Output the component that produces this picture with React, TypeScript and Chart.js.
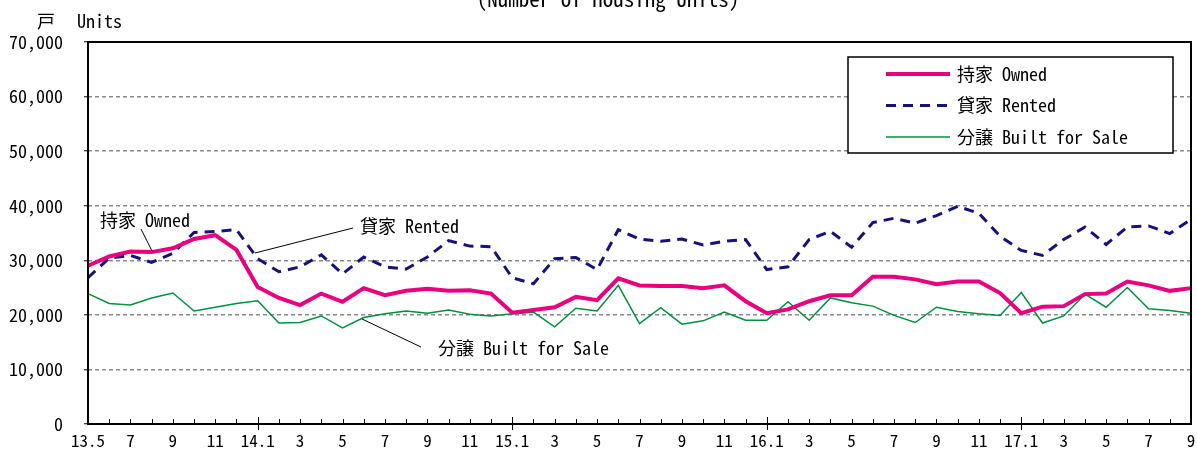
import React, { useEffect, useRef } from "react";
import { Chart, registerables } from "chart.js";

Chart.register(...registerables);

const FONT = "'Noto Sans Mono CJK JP', 'Noto Sans CJK JP', 'DejaVu Sans Mono', monospace";

const TITLE = "(Number of Housing Units)";
const UNIT_JA = "戸";
const UNIT_EN = "Units";

const categories = [
  "13.5", "6", "7", "8", "9", "10", "11", "12",
  "14.1", "2", "3", "4", "5", "6", "7", "8", "9", "10", "11", "12",
  "15.1", "2", "3", "4", "5", "6", "7", "8", "9", "10", "11", "12",
  "16.1", "2", "3", "4", "5", "6", "7", "8", "9", "10", "11", "12",
  "17.1", "2", "3", "4", "5", "6", "7", "8", "9",
];

const owned = [
  29000, 30700, 31600, 31500, 32200, 33900, 34600, 31900, 25100, 23100, 21800, 23900, 22400, 24900,
  23600, 24400, 24800, 24400, 24500, 23900, 20400, 20900, 21400, 23300, 22700, 26700, 25400, 25300,
  25300, 24900, 25400, 22500, 20300, 21000, 22500, 23600, 23600, 27000, 27000, 26500, 25600,
  26100, 26100, 24000, 20300, 21500, 21600, 23800, 23900, 26100, 25400, 24400, 24900,
];

const rented = [
  26800, 30400, 30900, 29600, 31300, 35100, 35300, 35600, 30300, 27900, 28800, 31000, 27500, 30600,
  28800, 28400, 30600, 33600, 32600, 32500, 26800, 25700, 30300, 30500, 28300, 35600, 33900, 33500,
  33900, 32800, 33500, 33800, 28300, 28800, 33800, 35300, 32400, 36900, 37700, 36800, 38200,
  39900, 38600, 34400, 31800, 30900, 33800, 36100, 32900, 36100, 36300, 34900, 37500,
];

const builtForSale = [
  23900, 22100, 21800, 23100, 24000, 20700, 21400, 22100, 22600, 18500, 18600, 19800, 17600, 19500,
  20200, 20700, 20300, 20900, 20100, 19800, 20200, 20500, 17800, 21200, 20700, 25400, 18400, 21300,
  18300, 18900, 20500, 19000, 19000, 22400, 19000, 23100, 22200, 21600, 19900, 18600, 21400,
  20600, 20200, 19900, 24100, 18500, 19800, 23800, 21400, 25000, 21100, 20800, 20300,
];

const seriesLabels = ["持家 Owned", "貸家 Rented", "分譲 Built for Sale"];
const yMin = 0;
const yMax = 70000;
const yStep = 10000;

const overlayPlugin = {
  id: "overlay",
  afterDraw(chart: any) {
    const { ctx, chartArea: a } = chart;
    const x = chart.scales.x;
    ctx.save();
    // x-axis tick marks (inward; year ticks cross the axis)
    ctx.strokeStyle = "#000";
    ctx.lineWidth = 1;
    categories.forEach((lab, i) => {
      const px = Math.round(x.getPixelForValue(i)) + 0.5;
      const major = lab.endsWith(".1");
      ctx.beginPath();
      ctx.moveTo(px, a.bottom - (major ? 7 : 5));
      ctx.lineTo(px, a.bottom + (major ? 6 : 0));
      ctx.stroke();
    });
    // plot box
    ctx.lineWidth = 2;
    ctx.strokeRect(a.left, a.top, a.right - a.left, a.bottom - a.top);

    // title & unit
    ctx.fillStyle = "#000";
    ctx.font = `21px ${FONT}`;
    ctx.textAlign = "center";
    ctx.textBaseline = "alphabetic";
    ctx.fillText(TITLE, 608, 7);
    ctx.font = `18px ${FONT}`;
    ctx.textAlign = "left";
    ctx.textBaseline = "middle";
    ctx.fillText(UNIT_JA, 37, 21);
    ctx.fillText(UNIT_EN, 77, 21);

    // annotations with leader lines
    const notes = [
      { text: seriesLabels[0], tx: 100, ty: 220, l: [141, 229, 152, 251] },
      { text: seriesLabels[1], tx: 360, ty: 226, l: [353, 228, 255, 253] },
      { text: seriesLabels[2], tx: 438, ty: 348, l: [421, 347, 362, 319] },
    ];
    ctx.lineWidth = 1;
    ctx.strokeStyle = "#000";
    notes.forEach((n) => {
      ctx.beginPath();
      ctx.moveTo(n.l[0], n.l[1]);
      ctx.lineTo(n.l[2], n.l[3]);
      ctx.stroke();
      ctx.fillText(n.text, n.tx, n.ty);
    });

    // legend
    const bx = 848, by = 57, bw = 325, bh = 96;
    ctx.fillStyle = "#fff";
    ctx.fillRect(bx, by, bw, bh);
    ctx.strokeStyle = "#000";
    ctx.lineWidth = 1.5;
    ctx.strokeRect(bx, by, bw, bh);
    chart.data.datasets.forEach((ds: any, i: number) => {
      const ly = 74 + i * 31.5;
      ctx.save();
      ctx.strokeStyle = ds.borderColor;
      ctx.lineWidth = ds.borderWidth;
      ctx.setLineDash(ds.borderDash || []);
      ctx.beginPath();
      ctx.moveTo(886, ly);
      ctx.lineTo(950, ly);
      ctx.stroke();
      ctx.restore();
      ctx.fillStyle = "#000";
      ctx.font = `18px ${FONT}`;
      ctx.textAlign = "left";
      ctx.textBaseline = "middle";
      ctx.fillText(ds.label, 957, ly);
    });
    ctx.restore();
  },
};

export default function App() {
  const ref = useRef<HTMLCanvasElement | null>(null);
  useEffect(() => {
    if (!ref.current) return;
    const chart = new Chart(ref.current, {
      type: "line",
      data: {
        labels: categories,
        datasets: [
          {
            label: seriesLabels[0],
            data: owned,
            borderColor: "#E8007F",
            borderWidth: 4,
            pointRadius: 0,
            tension: 0,
            fill: false,
          },
          {
            label: seriesLabels[1],
            data: rented,
            borderColor: "#16127A",
            borderWidth: 3,
            borderDash: [10, 7],
            pointRadius: 0,
            tension: 0,
            fill: false,
          },
          {
            label: seriesLabels[2],
            data: builtForSale,
            borderColor: "#009040",
            borderWidth: 1.5,
            pointRadius: 0,
            tension: 0,
            fill: false,
          },
        ],
      },
      options: {
        responsive: false,
        animation: false,
        layout: { padding: { top: 42, right: 6, left: 0, bottom: 0 } },
        plugins: {
          legend: { display: false },
          tooltip: { enabled: false },
          title: { display: false },
        },
        scales: {
          x: {
            type: "category",
            offset: false,
            grid: { display: false, drawTicks: false },
            border: { display: false },
            ticks: {
              autoSkip: false,
              maxRotation: 0,
              minRotation: 0,
              padding: 6,
              color: "#000",
              font: { family: FONT, size: 17 },
              callback: (_v: any, i: number) => (i % 2 === 0 ? categories[i] : ""),
            },
            afterFit: (s: any) => {
              s.height = 26;
              s.paddingLeft = 0;
              s.paddingRight = 0;
            },
          },
          y: {
            min: yMin,
            max: yMax,
            grid: {
              color: (c: any) =>
                c.tick && (c.tick.value === yMin || c.tick.value === yMax) ? "rgba(0,0,0,0)" : "#8a8a8a",
              lineWidth: 1.5,
              tickLength: 4,
              tickColor: "#000",
              tickWidth: 1,
            },
            border: { display: false, dash: [4, 3] },
            ticks: {
              stepSize: yStep,
              padding: 21,
              color: "#000",
              font: { family: FONT, size: 18 },
              callback: (v: any) => Number(v).toLocaleString("en-US"),
            },
            afterFit: (s: any) => {
              s.width = 88;
              s.paddingTop = 0;
              s.paddingBottom = 0;
            },
          },
        },
      },
      plugins: [overlayPlugin],
    });
    return () => chart.destroy();
  }, []);
  return (
    <div style={{ position: "absolute", left: 0, top: 0, width: 1197, height: 450, background: "#fff" }}>
      <canvas ref={ref} width={1197} height={450} style={{ display: "block" }} />
    </div>
  );
}
